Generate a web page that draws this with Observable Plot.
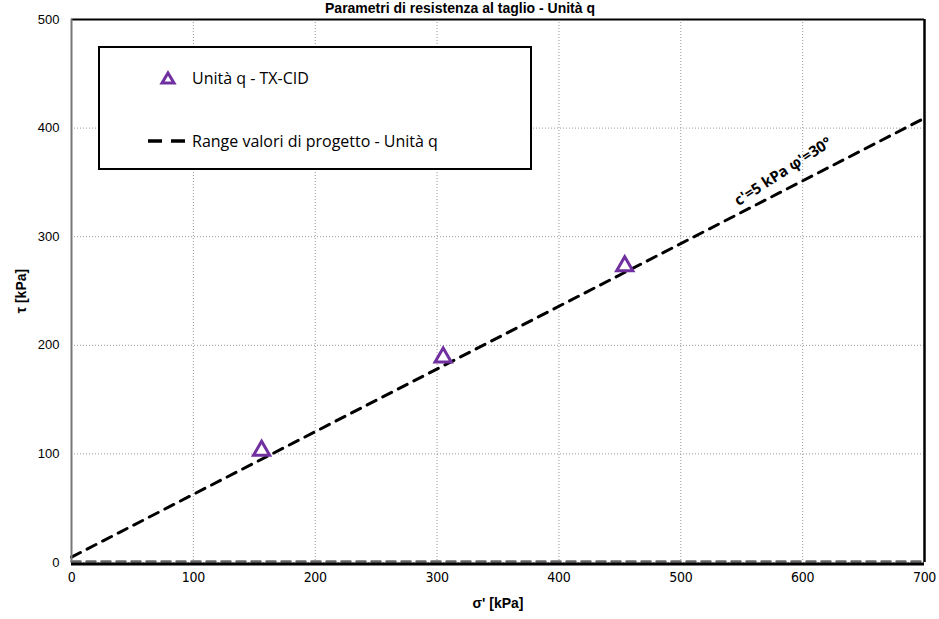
<!DOCTYPE html>
<html>
<head>
<meta charset="utf-8">
<script src="https://cdn.jsdelivr.net/npm/d3@7"></script>
<script src="https://cdn.jsdelivr.net/npm/@observablehq/plot@0.6"></script>
<style>
  html, body { margin: 0; padding: 0; background: #fff; }
  #wrap { position: relative; width: 939px; height: 619px; overflow: hidden; }
  #title { position: absolute; left: 0; width: 920px; top: 0px; line-height: 15px; text-align: center;
    font: bold 14px "Liberation Sans", Arial, sans-serif; color: #000; }
  #legend { position: absolute; left: 98px; top: 46px; width: 430px; height: 120px;
    border: 2px solid #000; background: #fff; font: 16px "Open Sans", "Noto Sans", sans-serif; }
  .item { position: absolute; left: 0; display: flex; align-items: center; }
  .item span { margin-left: 4px; }
  g[aria-label="x-axis tick label"] { font-family: "Liberation Sans Narrow", "DejaVu Sans", sans-serif; font-stretch: condensed; letter-spacing: -0.3px; }
</style>
</head>
<body>
<div id="wrap">
  <div id="chart"></div>
  <div id="title">Parametri di resistenza al taglio - Unità q</div>
  <div id="legend">
    <div class="item" style="top:17px;left:48px"><svg width="40" height="26"><path d="M20,8 L26,18 L14,18 Z" fill="#fff" stroke="#7030A0" stroke-width="3"/></svg><span>Unità q - TX-CID</span></div>
    <div class="item" style="top:80px;left:48px"><svg width="40" height="26"><line x1="0" y1="13" x2="40" y2="13" stroke="#000" stroke-width="3.5" stroke-dasharray="14,9"/></svg><span>Range valori di progetto - Unità q</span></div>
  </div>
</div>
<script>
// Data
const sigmaTX = [156, 305, 454];
const tauTX = [103, 189, 273];
const cohesion = 5;          // kPa
const phiDeg = 30;           // degrees
const lineSigma = [0, 700];
const lineTau = lineSigma.map(s => cohesion + s * Math.tan(phiDeg * Math.PI / 180));
const lowerSigma = [0, 700];
const lowerTau = [0, 0];
const xTicks = [0, 100, 200, 300, 400, 500, 600, 700];
const yTicks = [0, 100, 200, 300, 400, 500];
const annotation = [{x: 584, y: 360, text: "c'=5 kPa φ'=30°"}];

const points = sigmaTX.map((s, i) => ({sigma: s, tau: tauTX[i]}));
const line = lineSigma.map((s, i) => ({sigma: s, tau: lineTau[i]}));
const lower = lowerSigma.map((s, i) => ({sigma: s, tau: lowerTau[i]}));

const tickFont = '"Liberation Sans", Arial, sans-serif';

const chart = Plot.plot({
  width: 939,
  height: 619,
  marginLeft: 71,
  marginRight: 15,
  marginTop: 19,
  marginBottom: 57,
  style: {background: "transparent", fontFamily: tickFont, fontSize: "13px", color: "#000"},
  x: {domain: [0, 700], ticks: xTicks},
  y: {domain: [0, 500], ticks: yTicks},
  marks: [
    Plot.ruleX(xTicks, {stroke: "#999", strokeDasharray: "1,2", strokeWidth: 1}),
    Plot.ruleY(yTicks, {stroke: "#999", strokeDasharray: "1,2", strokeWidth: 1}),
    Plot.line(lower, {x: "sigma", y: "tau", stroke: "#666", strokeWidth: 2.5, strokeDasharray: "9,6", dy: -1}),
    Plot.line(line, {x: "sigma", y: "tau", stroke: "#000", strokeWidth: 3, strokeDasharray: "10,7.5"}),
    Plot.dot(points, {x: "sigma", y: "tau", symbol: "triangle", r: 6, stroke: "#7030A0", strokeWidth: 3, fill: "#fff"}),
    Plot.text(annotation, {x: "x", y: "y", text: "text", rotate: -33, fontWeight: "bold", fontSize: 15, fontFamily: '"Open Sans", "Noto Sans", sans-serif'}),
    // frame
    Plot.ruleY([500], {stroke: "#000", strokeWidth: 2}),
    Plot.ruleX([700], {stroke: "#000", strokeWidth: 2.5}),
    Plot.ruleX([0], {stroke: "#777", strokeWidth: 2}),
    Plot.ruleY([0], {stroke: "#000", strokeWidth: 3, dy: 1.5}),
    Plot.axisX({ticks: xTicks, tickSize: 0, tickPadding: 10, fontSize: 14, label: null}),
    Plot.axisY({ticks: yTicks, tickSize: 0, tickPadding: 12, fontSize: 13, label: null}),
    Plot.axisX({ticks: [], label: "σ' [kPa]", labelAnchor: "center", labelArrow: "none", labelOffset: 45, fontWeight: "bold", fontSize: 14}),
    Plot.axisY({ticks: [], label: "τ [kPa]", labelAnchor: "center", labelArrow: "none", labelOffset: 55, fontWeight: "bold", fontSize: 14})
  ]
});
document.getElementById("chart").appendChild(chart);
</script>
</body>
</html>
